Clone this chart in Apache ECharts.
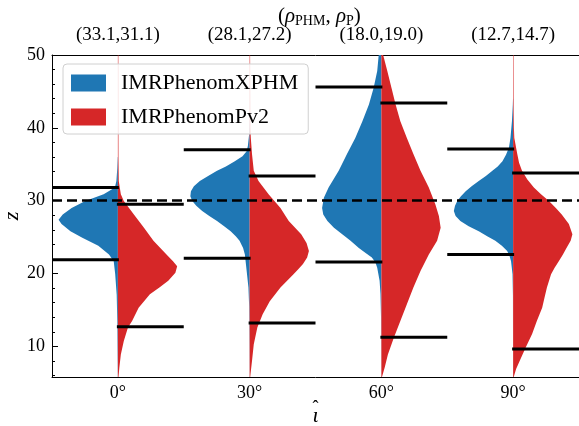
<!DOCTYPE html>
<html><head><meta charset="utf-8">
<script src="https://cdn.jsdelivr.net/npm/echarts@6/dist/echarts.min.js"></script>
<style>html,body{margin:0;padding:0;background:#fff}#c{width:579px;height:426px}</style>
</head><body><div id="c"></div>
<script>
// ---- data ----
const categories = ['0°', '30°', '60°', '90°'];
const snrLabels = ['(33.1,31.1)', '(28.1,27.2)', '(18.0,19.0)', '(12.7,14.7)'];
const yMajorTicks = [10, 20, 30, 40, 50];
const yMinorTicks = [6, 8, 12, 14, 16, 18, 22, 24, 26, 28, 32, 34, 36, 38, 42, 44, 46, 48];
const trueZ = 30;

// half-violin profiles: [z, relative width]
const xphm0 = [[36,0.003],[34.5,0.01],[32.7,0.025],[31.8,0.05],[30.9,0.24],[29.95,0.55],[29.0,0.78],[28.1,0.93],[27.4,1.0],[26.8,0.95],[25.8,0.8],[24.9,0.6],[23.8,0.33],[22.6,0.15],[21.7,0.07],[19.9,0.045],[17.1,0.02],[13.5,0.01],[8,0.004],[5.8,0.002]];
const pv20 = [[50,0.008],[36,0.01],[32.7,0.015],[30.9,0.05],[29.95,0.1],[29.4,0.15],[28.1,0.27],[26.3,0.44],[24.5,0.6],[22.6,0.82],[21.7,0.93],[21.0,1.0],[20.1,0.97],[19.0,0.85],[18.1,0.7],[17.15,0.54],[15.3,0.35],[13.5,0.24],[12.6,0.17],[10.75,0.1],[8.9,0.05],[7.1,0.025],[5.8,0.01]];
const xphm30 = [[41,0.002],[39,0.01],[37.5,0.03],[36.8,0.05],[36.1,0.12],[35.4,0.25],[34.7,0.4],[34.1,0.55],[33.4,0.7],[32.7,0.84],[32.0,0.94],[31.3,0.99],[30.6,1.0],[30.0,0.97],[29.3,0.9],[28.6,0.8],[27.9,0.68],[27.2,0.55],[26.5,0.43],[25.8,0.32],[25.1,0.23],[24.5,0.17],[23.5,0.11],[22.6,0.08],[20.35,0.05],[18.1,0.02],[15.5,0.008],[10,0.003],[5.8,0.001]];
const pv230 = [[50,0.008],[40,0.012],[38.6,0.02],[36.4,0.04],[34.1,0.07],[32.7,0.15],[30.9,0.32],[29.0,0.52],[27.2,0.66],[25.4,0.87],[24.2,0.96],[23.1,1.0],[22.2,0.97],[21.3,0.9],[20.6,0.82],[19.9,0.74],[18.1,0.52],[16.2,0.34],[14.4,0.22],[12.6,0.13],[10.3,0.07],[8.0,0.04],[6.2,0.015],[5.8,0.01]];
const xphm60 = [[50,0.045],[47.8,0.07],[45.5,0.13],[43.2,0.21],[40.9,0.32],[38.6,0.44],[36.4,0.58],[34.1,0.72],[31.8,0.89],[30.4,0.97],[29.0,1.0],[28.1,0.98],[27.2,0.91],[26.3,0.8],[25.4,0.66],[24.5,0.52],[23.5,0.38],[22.8,0.26],[22.2,0.16],[21.5,0.1],[20.8,0.07],[19.0,0.03],[17.2,0.015],[14,0.006],[10,0.003],[5.8,0.001]];
const pv260 = [[50,0.03],[47.8,0.1],[45.5,0.17],[43.2,0.24],[40.9,0.32],[38.6,0.43],[36.4,0.54],[34.1,0.66],[31.8,0.8],[29.5,0.91],[27.9,0.97],[26.3,1.0],[24.5,0.94],[22.6,0.8],[20.35,0.66],[18.1,0.54],[15.8,0.43],[13.5,0.32],[11.2,0.21],[8.9,0.11],[7.1,0.056],[5.8,0.01]];
const xphm90 = [[44,0.002],[43.2,0.005],[40.9,0.02],[38.6,0.045],[37.3,0.07],[36.3,0.12],[35.4,0.18],[34.7,0.26],[34.1,0.35],[33.4,0.46],[32.7,0.58],[32.0,0.7],[31.3,0.8],[30.6,0.88],[30.0,0.94],[29.3,0.98],[28.6,1.0],[27.9,0.97],[27.2,0.89],[26.5,0.75],[25.8,0.58],[25.1,0.43],[24.5,0.3],[23.8,0.19],[23.1,0.1],[22.4,0.06],[21.7,0.035],[19.9,0.01],[17,0.003],[5.8,0.001]];
const pv290 = [[50,0.008],[42,0.01],[40,0.013],[38.6,0.02],[36.4,0.07],[35.2,0.1],[34.1,0.15],[32.9,0.24],[31.8,0.35],[30.9,0.47],[30.0,0.6],[29.0,0.72],[28.1,0.82],[26.8,0.94],[25.4,1.0],[24.5,0.97],[23.5,0.9],[22.6,0.84],[21.7,0.77],[20.8,0.7],[19.9,0.64],[18.1,0.57],[16.7,0.53],[15.3,0.49],[13.5,0.4],[11.7,0.32],[9.8,0.21],[8.0,0.11],[6.9,0.05],[5.8,0.01]];

// credible interval bounds
const xphmLow  = [21.9, 22.1, 21.6, 22.6];
const xphmHigh = [31.8, 37.0, 45.6, 37.1];
const pv2Low   = [12.7, 13.2, 11.25, 9.65];
const pv2High  = [29.5, 33.4, 43.4, 33.8];

const xphmProfiles = [xphm0, xphm30, xphm60, xphm90];
const pv2Profiles  = [pv20, pv230, pv260, pv290];

const BLUE = '#1f77b4', RED = '#d62728';
const FONT = 'Liberation Serif';

function violin(profiles, side, color) {
  return function (params, api) {
    const idx = params.dataIndex;
    const prof = profiles[idx];
    const halfW = 0.45 * api.size([1, 0])[0];
    const pts = [];
    pts.push(api.coord([idx, prof[0][0]]));
    for (const [z, w] of prof) {
      const p = api.coord([idx, z]);
      pts.push([p[0] + side * w * halfW, p[1]]);
    }
    pts.push(api.coord([idx, prof[prof.length - 1][0]]));
    return { type: 'polygon', shape: { points: pts }, style: { fill: color } };
  };
}

function bounds(lows, highs, side) {
  return function (params, api) {
    const idx = params.dataIndex;
    const halfBand = 0.5 * api.size([1, 0])[0];
    const children = [lows[idx], highs[idx]].map(v => {
      const p = api.coord([idx, v]);
      return { type: 'line', shape: { x1: p[0] - (side < 0 ? halfBand : 1), y1: p[1], x2: p[0] + (side > 0 ? halfBand : 1), y2: p[1] },
               style: { stroke: '#000', lineWidth: 3 } };
    });
    return { type: 'group', children };
  };
}

const catData = categories.map((c, i) => [i, trueZ]);

const chart = echarts.init(document.getElementById('c'));
chart.setOption({
  animation: false,
  backgroundColor: '#fff',
  title: {
    text: '{p|(}{i|ρ}{s|PHM}{p|, }{i|ρ}{s|P}{p|)}',
    left: 273, top: 0,
    textStyle: {
      fontWeight: 'normal',
      rich: {
        p: { fontFamily: FONT, fontSize: 21, fontWeight: 'normal', color: '#000' },
        i: { fontFamily: FONT, fontSize: 21, fontStyle: 'italic', fontWeight: 'normal', color: '#000' },
        s: { fontFamily: FONT, fontSize: 14, fontWeight: 'normal', color: '#000', padding: [9, 0, 0, 0] }
      }
    }
  },
  legend: {
    left: 63, top: 64,
    orient: 'vertical',
    data: ['IMRPhenomXPHM', 'IMRPhenomPv2'],
    icon: 'rect', itemWidth: 35, itemHeight: 17, itemGap: 12,
    padding: [8, 10, 6, 8],
    backgroundColor: 'rgba(255,255,255,0.8)',
    borderColor: '#d0d0d0', borderWidth: 1, borderRadius: 4,
    textStyle: { fontFamily: FONT, fontSize: 22, color: '#000', padding: [0, 0, 0, 10] }
  },
  grid: { left: 52, right: 0, top: 55, bottom: 49, containLabel: false, outerBoundsMode: 'none' },
  xAxis: [
    { type: 'category', data: categories, position: 'bottom', boundaryGap: true,
      axisLine: { lineStyle: { color: '#000', width: 1 } },
      axisTick: { inside: true, alignWithLabel: true, length: 5, lineStyle: { color: '#000' } },
      axisLabel: { fontFamily: FONT, fontSize: 18, color: '#000', margin: 7 },
      name: '{h|ˆ}\n{i|ι}', nameLocation: 'middle', nameGap: 29, nameMoveOverlap: false,
      nameTextStyle: { align: 'center', verticalAlign: 'top',
        rich: { h: { fontFamily: FONT, fontSize: 18, color: '#000', lineHeight: 4, align: 'center' },
                i: { fontFamily: FONT, fontSize: 22, fontStyle: 'italic', color: '#000', lineHeight: 12, align: 'center' } } },
      splitLine: { show: false } },
    { type: 'category', data: snrLabels, position: 'top', boundaryGap: true,
      axisLine: { lineStyle: { color: '#000', width: 1 } },
      axisTick: { inside: true, alignWithLabel: true, length: 5, lineStyle: { color: '#000' } },
      axisLabel: { fontFamily: FONT, fontSize: 19, color: '#000', margin: 10 },
      splitLine: { show: false } }
  ],
  yAxis: [
    { type: 'value', min: 5.8, max: 50, position: 'left',
      axisLine: { show: true, lineStyle: { color: '#000', width: 1 } },
      axisTick: { show: true, inside: true, length: 6, customValues: yMajorTicks, lineStyle: { color: '#000' } },
      axisLabel: { fontFamily: FONT, fontSize: 18, color: '#000', margin: 7, customValues: yMajorTicks },
      splitLine: { show: false },
      name: 'z', nameLocation: 'middle', nameGap: 29, nameRotate: 90, nameMoveOverlap: false,
      nameTextStyle: { fontFamily: FONT, fontSize: 22, fontStyle: 'italic', color: '#000' } },
    { type: 'value', min: 5.8, max: 50, position: 'left', offset: 0,
      axisLine: { show: false },
      axisTick: { show: true, inside: true, length: 3, customValues: yMinorTicks, lineStyle: { color: '#000' } },
      axisLabel: { show: false },
      splitLine: { show: false } }
  ],
  series: [
    { name: 'IMRPhenomXPHM', type: 'custom', xAxisIndex: 0, yAxisIndex: 0, clip: true,
      itemStyle: { color: BLUE }, renderItem: violin(xphmProfiles, -1, BLUE), data: catData, z: 2 },
    { name: 'IMRPhenomPv2', type: 'custom', xAxisIndex: 0, yAxisIndex: 0, clip: true,
      itemStyle: { color: RED }, renderItem: violin(pv2Profiles, 1, RED), data: catData, z: 2 },
    { name: 'xphmBounds', type: 'custom', xAxisIndex: 0, yAxisIndex: 0,
      renderItem: bounds(xphmLow, xphmHigh, -1), data: catData, z: 3 },
    { name: 'pv2Bounds', type: 'custom', xAxisIndex: 0, yAxisIndex: 0,
      renderItem: bounds(pv2Low, pv2High, 1), data: catData, z: 3,
      markLine: { silent: true, symbol: ['none', 'none'], label: { show: false },
        lineStyle: { color: '#000', width: 2.6, type: [10, 5] },
        data: [{ yAxis: trueZ }] } }
  ]
});
</script></body></html>
